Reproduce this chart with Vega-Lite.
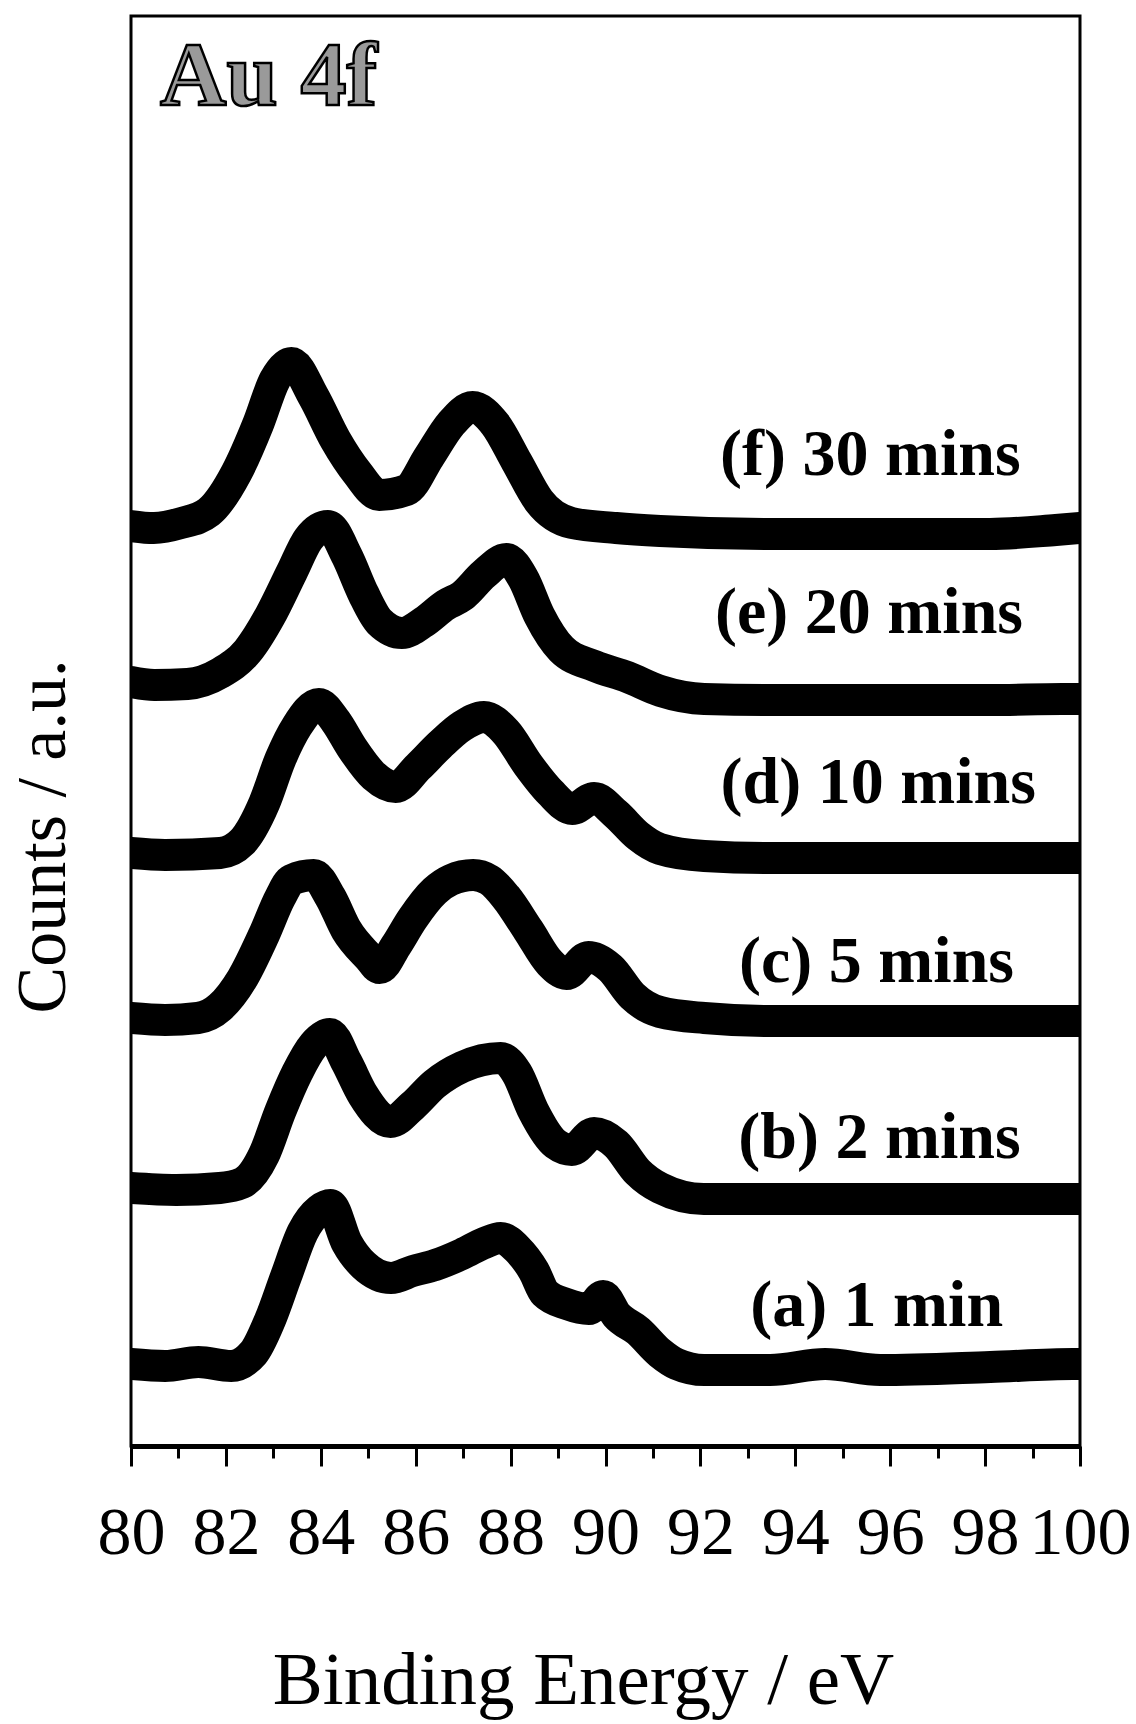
{
  "$schema": "https://vega.github.io/schema/vega-lite/v6.json",
  "width": 949,
  "height": 1430,
  "autosize": {"type": "none"},
  "padding": {"left": 131, "top": 16, "right": 56, "bottom": 278},
  "background": "white",
  "config": {
    "view": {"stroke": "black", "strokeWidth": 3},
    "font": "Liberation Serif"
  },
  "datasets": {
    "spectra": [
      {"series": "f", "energy": 80.0, "counts": 920},
      {"series": "f", "energy": 80.48, "counts": 918},
      {"series": "f", "energy": 81.06, "counts": 923},
      {"series": "f", "energy": 81.64, "counts": 934},
      {"series": "f", "energy": 82.22, "counts": 973},
      {"series": "f", "energy": 82.68, "counts": 1022},
      {"series": "f", "energy": 83.03, "counts": 1066},
      {"series": "f", "energy": 83.38, "counts": 1083},
      {"series": "f", "energy": 83.84, "counts": 1050},
      {"series": "f", "energy": 84.31, "counts": 1006},
      {"series": "f", "energy": 84.77, "counts": 973},
      {"series": "f", "energy": 85.23, "counts": 951},
      {"series": "f", "energy": 85.81, "counts": 956},
      {"series": "f", "energy": 86.28, "counts": 989},
      {"series": "f", "energy": 86.74, "counts": 1022},
      {"series": "f", "energy": 87.2, "counts": 1039},
      {"series": "f", "energy": 87.67, "counts": 1022},
      {"series": "f", "energy": 88.13, "counts": 984},
      {"series": "f", "energy": 88.6, "counts": 945},
      {"series": "f", "energy": 89.29, "counts": 923},
      {"series": "f", "energy": 90.22, "counts": 918},
      {"series": "f", "energy": 91.15, "counts": 915},
      {"series": "f", "energy": 93.47, "counts": 912},
      {"series": "f", "energy": 95.78, "counts": 912},
      {"series": "f", "energy": 98.1, "counts": 912},
      {"series": "f", "energy": 99.49, "counts": 916},
      {"series": "f", "energy": 100.0, "counts": 918},

      {"series": "e", "energy": 80.0, "counts": 764},
      {"series": "e", "energy": 80.49, "counts": 761},
      {"series": "e", "energy": 81.19, "counts": 762},
      {"series": "e", "energy": 81.88, "counts": 773},
      {"series": "e", "energy": 82.46, "counts": 795},
      {"series": "e", "energy": 82.93, "counts": 830},
      {"series": "e", "energy": 83.39, "counts": 874},
      {"series": "e", "energy": 83.74, "counts": 907},
      {"series": "e", "energy": 84.15, "counts": 920},
      {"series": "e", "energy": 84.55, "counts": 890},
      {"series": "e", "energy": 84.9, "counts": 852},
      {"series": "e", "energy": 85.24, "counts": 824},
      {"series": "e", "energy": 85.71, "counts": 813},
      {"series": "e", "energy": 86.17, "counts": 824},
      {"series": "e", "energy": 86.63, "counts": 841},
      {"series": "e", "energy": 86.98, "counts": 850},
      {"series": "e", "energy": 87.44, "counts": 872},
      {"series": "e", "energy": 87.91, "counts": 887},
      {"series": "e", "energy": 88.26, "counts": 868},
      {"series": "e", "energy": 88.61, "counts": 830},
      {"series": "e", "energy": 89.07, "counts": 797},
      {"series": "e", "energy": 89.77, "counts": 780},
      {"series": "e", "energy": 90.46, "counts": 769},
      {"series": "e", "energy": 91.16, "counts": 755},
      {"series": "e", "energy": 92.08, "counts": 747},
      {"series": "e", "energy": 93.47, "counts": 746},
      {"series": "e", "energy": 95.79, "counts": 746},
      {"series": "e", "energy": 98.11, "counts": 746},
      {"series": "e", "energy": 99.62, "counts": 747},
      {"series": "e", "energy": 100.0, "counts": 747},

      {"series": "d", "energy": 80.0, "counts": 593},
      {"series": "d", "energy": 80.72, "counts": 591},
      {"series": "d", "energy": 81.88, "counts": 593},
      {"series": "d", "energy": 82.34, "counts": 604},
      {"series": "d", "energy": 82.81, "counts": 643},
      {"series": "d", "energy": 83.15, "counts": 687},
      {"series": "d", "energy": 83.5, "counts": 720},
      {"series": "d", "energy": 83.96, "counts": 742},
      {"series": "d", "energy": 84.31, "counts": 725},
      {"series": "d", "energy": 84.66, "counts": 698},
      {"series": "d", "energy": 85.12, "counts": 670},
      {"series": "d", "energy": 85.58, "counts": 659},
      {"series": "d", "energy": 86.05, "counts": 679},
      {"series": "d", "energy": 86.51, "counts": 701},
      {"series": "d", "energy": 86.98, "counts": 720},
      {"series": "d", "energy": 87.44, "counts": 729},
      {"series": "d", "energy": 87.9, "counts": 714},
      {"series": "d", "energy": 88.37, "counts": 681},
      {"series": "d", "energy": 88.83, "counts": 654},
      {"series": "d", "energy": 89.3, "counts": 637},
      {"series": "d", "energy": 89.76, "counts": 648},
      {"series": "d", "energy": 90.22, "counts": 632},
      {"series": "d", "energy": 90.69, "counts": 610},
      {"series": "d", "energy": 91.15, "counts": 597},
      {"series": "d", "energy": 92.08, "counts": 590},
      {"series": "d", "energy": 93.47, "counts": 588},
      {"series": "d", "energy": 95.78, "counts": 588},
      {"series": "d", "energy": 98.1, "counts": 588},
      {"series": "d", "energy": 99.72, "counts": 588},
      {"series": "d", "energy": 100.0, "counts": 588},

      {"series": "c", "energy": 80.0, "counts": 428},
      {"series": "c", "energy": 80.72, "counts": 426},
      {"series": "c", "energy": 81.41, "counts": 428},
      {"series": "c", "energy": 81.88, "counts": 439},
      {"series": "c", "energy": 82.34, "counts": 467},
      {"series": "c", "energy": 82.8, "counts": 511},
      {"series": "c", "energy": 83.15, "counts": 549},
      {"series": "c", "energy": 83.38, "counts": 566},
      {"series": "c", "energy": 83.85, "counts": 571},
      {"series": "c", "energy": 84.2, "counts": 549},
      {"series": "c", "energy": 84.54, "counts": 516},
      {"series": "c", "energy": 85.01, "counts": 489},
      {"series": "c", "energy": 85.24, "counts": 478},
      {"series": "c", "energy": 85.58, "counts": 500},
      {"series": "c", "energy": 85.93, "counts": 527},
      {"series": "c", "energy": 86.4, "counts": 555},
      {"series": "c", "energy": 86.74, "counts": 566},
      {"series": "c", "energy": 87.21, "counts": 571},
      {"series": "c", "energy": 87.55, "counts": 566},
      {"series": "c", "energy": 87.9, "counts": 549},
      {"series": "c", "energy": 88.37, "counts": 516},
      {"series": "c", "energy": 88.83, "counts": 483},
      {"series": "c", "energy": 89.18, "counts": 472},
      {"series": "c", "energy": 89.64, "counts": 489},
      {"series": "c", "energy": 90.1, "counts": 478},
      {"series": "c", "energy": 90.57, "counts": 450},
      {"series": "c", "energy": 91.15, "counts": 434},
      {"series": "c", "energy": 92.08, "counts": 428},
      {"series": "c", "energy": 93.47, "counts": 425},
      {"series": "c", "energy": 95.78, "counts": 425},
      {"series": "c", "energy": 98.1, "counts": 425},
      {"series": "c", "energy": 99.77, "counts": 425},
      {"series": "c", "energy": 100.0, "counts": 425},

      {"series": "b", "energy": 80.0, "counts": 258},
      {"series": "b", "energy": 80.95, "counts": 256},
      {"series": "b", "energy": 81.87, "counts": 258},
      {"series": "b", "energy": 82.34, "counts": 263},
      {"series": "b", "energy": 82.8, "counts": 291},
      {"series": "b", "energy": 83.15, "counts": 335},
      {"series": "b", "energy": 83.5, "counts": 373},
      {"series": "b", "energy": 83.85, "counts": 401},
      {"series": "b", "energy": 84.19, "counts": 412},
      {"series": "b", "energy": 84.54, "counts": 384},
      {"series": "b", "energy": 84.89, "counts": 351},
      {"series": "b", "energy": 85.47, "counts": 324},
      {"series": "b", "energy": 85.93, "counts": 340},
      {"series": "b", "energy": 86.4, "counts": 362},
      {"series": "b", "energy": 86.98, "counts": 379},
      {"series": "b", "energy": 87.79, "counts": 388},
      {"series": "b", "energy": 88.13, "counts": 373},
      {"series": "b", "energy": 88.48, "counts": 335},
      {"series": "b", "energy": 88.95, "counts": 302},
      {"series": "b", "energy": 89.29, "counts": 296},
      {"series": "b", "energy": 89.76, "counts": 313},
      {"series": "b", "energy": 90.22, "counts": 302},
      {"series": "b", "energy": 90.68, "counts": 274},
      {"series": "b", "energy": 91.15, "counts": 258},
      {"series": "b", "energy": 92.07, "counts": 247},
      {"series": "b", "energy": 93.47, "counts": 247},
      {"series": "b", "energy": 95.78, "counts": 247},
      {"series": "b", "energy": 98.1, "counts": 247},
      {"series": "b", "energy": 99.84, "counts": 247},
      {"series": "b", "energy": 100.0, "counts": 247},

      {"series": "a", "energy": 80.0, "counts": 82},
      {"series": "a", "energy": 80.72, "counts": 80},
      {"series": "a", "energy": 81.42, "counts": 84},
      {"series": "a", "energy": 82.11, "counts": 80},
      {"series": "a", "energy": 82.58, "counts": 93},
      {"series": "a", "energy": 82.93, "counts": 126},
      {"series": "a", "energy": 83.27, "counts": 170},
      {"series": "a", "energy": 83.62, "counts": 214},
      {"series": "a", "energy": 83.97, "counts": 236},
      {"series": "a", "energy": 84.2, "counts": 241},
      {"series": "a", "energy": 84.55, "counts": 203},
      {"series": "a", "energy": 84.9, "counts": 181},
      {"series": "a", "energy": 85.48, "counts": 168},
      {"series": "a", "energy": 85.94, "counts": 175},
      {"series": "a", "energy": 86.41, "counts": 181},
      {"series": "a", "energy": 86.98, "counts": 192},
      {"series": "a", "energy": 87.45, "counts": 203},
      {"series": "a", "energy": 87.79, "counts": 208},
      {"series": "a", "energy": 88.14, "counts": 197},
      {"series": "a", "energy": 88.49, "counts": 175},
      {"series": "a", "energy": 88.72, "counts": 153},
      {"series": "a", "energy": 89.18, "counts": 142},
      {"series": "a", "energy": 89.65, "counts": 137},
      {"series": "a", "energy": 89.95, "counts": 150},
      {"series": "a", "energy": 90.23, "counts": 131},
      {"series": "a", "energy": 90.69, "counts": 115},
      {"series": "a", "energy": 91.15, "counts": 93},
      {"series": "a", "energy": 91.5, "counts": 82},
      {"series": "a", "energy": 92.08, "counts": 76},
      {"series": "a", "energy": 93.47, "counts": 76},
      {"series": "a", "energy": 94.63, "counts": 82},
      {"series": "a", "energy": 95.79, "counts": 76},
      {"series": "a", "energy": 98.11, "counts": 79},
      {"series": "a", "energy": 99.85, "counts": 82},
      {"series": "a", "energy": 100.0, "counts": 82}
    ],
    "labels": [
      {"energy": 98.75, "counts": 971, "label": "(f) 30 mins"},
      {"energy": 98.8, "counts": 813, "label": "(e) 20 mins"},
      {"energy": 99.07, "counts": 643, "label": "(d) 10 mins"},
      {"energy": 98.61, "counts": 464, "label": "(c) 5 mins"},
      {"energy": 98.75, "counts": 288, "label": "(b) 2 mins"},
      {"energy": 98.38, "counts": 120, "label": "(a) 1 min"}
    ],
    "heading": [
      {"energy": 80.61, "counts": 1341, "label": "Au 4f"}
    ]
  },
  "resolve": {"axis": {"x": "independent", "y": "independent"}},
  "layer": [
    {
      "data": {"name": "spectra"},
      "mark": {"type": "line", "color": "black", "strokeWidth": 32, "strokeJoin": "round", "strokeCap": "round", "interpolate": "monotone", "clip": true},
      "encoding": {
        "x": {
          "field": "energy", "type": "quantitative",
          "scale": {"domain": [80, 100], "nice": false, "zero": false},
          "axis": {
            "orient": "bottom",
            "values": [80, 82, 84, 86, 88, 90, 92, 94, 96, 98, 100],
            "title": "Binding Energy / eV",
            "titleFont": "Liberation Serif", "titleFontSize": 75, "titleFontWeight": "normal", "titleColor": "black",
            "titleBaseline": "alphabetic", "titleAlign": "center", "titleX": 452, "titleY": 257,
            "labelFont": "Liberation Serif", "labelFontSize": 68, "labelColor": "black",
            "labelBaseline": "alphabetic", "labelPadding": 87, "labelFlush": false, "labelOverlap": false, "labelBound": false,
            "tickSize": 20, "tickWidth": 3, "tickColor": "black",
            "domainColor": "black", "domainWidth": 5, "grid": false
          }
        },
        "y": {
          "field": "counts", "type": "quantitative",
          "scale": {"domain": [0, 1430], "nice": false, "zero": false},
          "axis": {
            "orient": "left",
            "title": "Counts / a.u.",
            "titleFont": "Liberation Serif", "titleFontSize": 70, "titleFontWeight": "normal", "titleColor": "black",
            "titleAngle": -90, "titleBaseline": "alphabetic", "titleAlign": "center", "titleX": -67, "titleY": 820,
            "labels": false, "ticks": false, "domain": false, "grid": false
          }
        },
        "detail": {"field": "series"}
      }
    },
    {
      "data": {"name": "labels"},
      "mark": {"type": "text", "align": "right", "baseline": "alphabetic", "font": "Liberation Serif", "fontSize": 66, "fontWeight": "bold", "color": "black"},
      "encoding": {
        "x": {
          "field": "energy", "type": "quantitative",
          "axis": {
            "orient": "bottom",
            "values": [81, 83, 85, 87, 89, 91, 93, 95, 97, 99],
            "title": null, "labels": false, "domain": false, "grid": false,
            "tickSize": 12, "tickWidth": 3, "tickColor": "black"
          }
        },
        "y": {"field": "counts", "type": "quantitative", "axis": null},
        "text": {"field": "label"}
      }
    },
    {
      "data": {"name": "heading"},
      "mark": {"type": "text", "align": "left", "baseline": "alphabetic", "font": "Liberation Serif", "fontSize": 92, "fontWeight": "bold", "fill": "#9a9a9a", "stroke": "black", "strokeWidth": 2.5},
      "encoding": {
        "x": {"field": "energy", "type": "quantitative", "axis": null},
        "y": {"field": "counts", "type": "quantitative", "axis": null},
        "text": {"field": "label"}
      }
    }
  ]
}
